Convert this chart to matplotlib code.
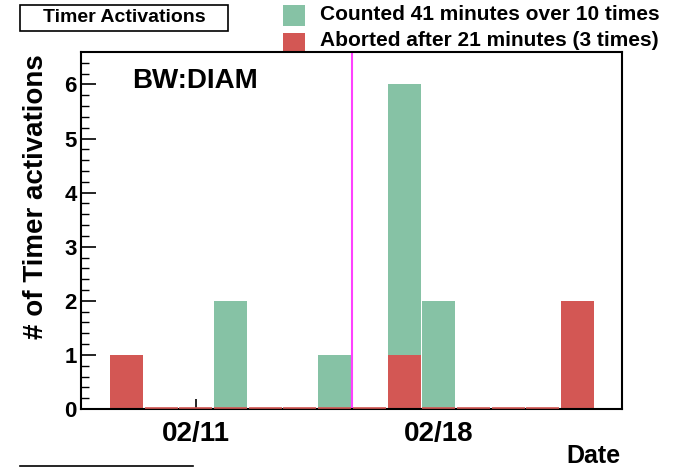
import matplotlib
matplotlib.use("Agg")
import matplotlib.pyplot as plt
from matplotlib.lines import Line2D
from matplotlib.patches import Rectangle

plt.rcParams['font.family'] = ['Liberation Sans', 'DejaVu Sans']
plt.rcParams['font.weight'] = 'bold'

# Data: day of February and counts per day
days = [9, 10, 11, 12, 13, 14, 15, 16, 17, 18, 19, 20, 21, 22]
counted = [0, 0, 0, 2, 0, 0, 1, 0, 6, 2, 0, 0, 0, 0]
aborted = [1, 0, 0, 0, 0, 0, 0, 0, 1, 0, 0, 0, 0, 2]
tick_days = [11, 18]
tick_labels = ["02/11", "02/18"]
marker_day = 15.5

green = "#86c2a5"
red = "#d35754"

W, H = 691, 467
fig = plt.figure(figsize=(W / 100, H / 100), dpi=100)
ax = fig.add_axes([81 / W, (H - 409) / H, (622 - 81) / W, (409 - 52) / H])

ax.bar(days, counted, width=0.95, color=green, zorder=3)
ax.bar(days, aborted, width=0.95, color=red, zorder=4)
# zero-level lines of the aborted histogram
for d, v in zip(days, aborted):
    if v == 0:
        ax.hlines(0.025, d - 0.475, d + 0.475, color=red, lw=1.2, zorder=8, clip_on=False)

ax.axvline(marker_day, color="#ff40ff", lw=1.5, zorder=6)

ax.set_xlim(7.69, 23.28)
ax.set_ylim(0, 6.6)

ax.set_xticks(tick_days)
ax.set_xticklabels(tick_labels, fontsize=20, fontweight='bold')
ax.tick_params(axis='x', direction='in', length=7, width=1.2, pad=9, top=False)
ax.set_yticks(range(0, 7))
ax.set_yticks([i * 0.2 for i in range(0, 33)], minor=True)
ax.tick_params(axis='y', which='major', direction='in', length=11, width=1.2, labelsize=16, pad=3)
ax.tick_params(axis='y', which='minor', direction='in', length=6, width=1.0)
ax.tick_params(axis='x', which='minor', bottom=False)
for lab in ax.get_yticklabels():
    lab.set_fontweight('bold')

for s in ax.spines.values():
    s.set_linewidth(1.5)
    s.set_zorder(7)

ax.set_ylabel("# of Timer activations", fontsize=20, fontweight='bold')
ax.yaxis.set_label_coords((49 - 81) / 541, (409 - 197) / 357)

fig.text(132 / W, 1 - 81 / H, "BW:DIAM", fontsize=20, fontweight='bold', va='center', ha='left')
fig.text(620 / W, 1 - 456 / H, "Date", fontsize=18, fontweight='bold', va='center', ha='right')

# title box
fig.add_artist(Rectangle((20 / W, 1 - 31 / H), 208 / W, 26 / H, transform=fig.transFigure,
                         facecolor='white', edgecolor='black', lw=1.2))
fig.text(124 / W, 1 - 18 / H, "Timer Activations", fontsize=14, fontweight='bold', va='center', ha='center')

# legend
fig.add_artist(Rectangle((283 / W, 1 - 26 / H), 22 / W, 21 / H, transform=fig.transFigure,
                         facecolor=green, edgecolor='none'))
fig.add_artist(Rectangle((283 / W, 1 - 53 / H), 22 / W, 20 / H, transform=fig.transFigure,
                         facecolor=red, edgecolor='none', zorder=0))
fig.text(320 / W, 1 - 14 / H, "Counted 41 minutes over 10 times", fontsize=15, fontweight='bold', va='center', ha='left')
fig.text(320 / W, 1 - 40 / H, "Aborted after 21 minutes (3 times)", fontsize=15, fontweight='bold', va='center', ha='left')

fig.add_artist(Line2D([20 / W, 193 / W], [1 - 466 / H, 1 - 466 / H], transform=fig.transFigure,
                      color='black', lw=1.2))

fig.savefig("out.png", dpi=100)
